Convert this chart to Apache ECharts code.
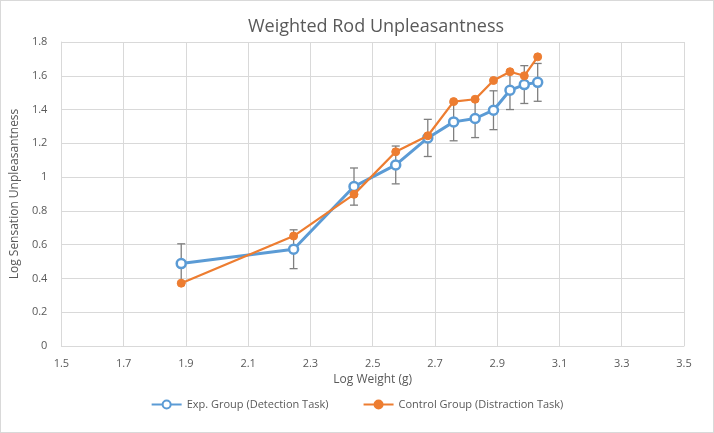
<!DOCTYPE html>
<html>
<head>
<meta charset="utf-8">
<script src="https://cdn.jsdelivr.net/npm/echarts@6/dist/echarts.min.js"></script>
<style>
  html, body { margin: 0; padding: 0; background: #fff; }
  #chart { width: 712px; height: 431px; border: 1px solid #d9d9d9; }
</style>
</head>
<body>
<div id="chart"></div>
<script>
  // log weight (x) for each stimulus
  var logWeight = [1.885, 2.246, 2.440, 2.574, 2.677, 2.760, 2.829, 2.888, 2.941, 2.987, 3.030]
  // exp. group mean + error
  var expValues = [0.488, 0.573, 0.944, 1.072, 1.232, 1.327, 1.347, 1.396, 1.514, 1.548, 1.561]
  var expError = [0.117, 0.115, 0.110, 0.112, 0.110, 0.112, 0.113, 0.115, 0.114, 0.112, 0.112]
  // control group mean
  var ctrlValues = [0.372, 0.651, 0.898, 1.150, 1.245, 1.447, 1.461, 1.572, 1.624, 1.600, 1.712]

  var chart = echarts.init(document.getElementById('chart'))

  var pair = function (xs, ys) {
    var out = []
    for (var i = 0; i < xs.length; i++) {
      out.push([xs[i], ys[i]])
    }
    return out
  }

  var errData = []
  for (var i = 0; i < logWeight.length; i++) {
    errData.push([logWeight[i], expValues[i] - expError[i], expValues[i] + expError[i]])
  }

  var textColor = '#595959'
  var gridColor = '#d9d9d9'

  var option = {
    animation: false,
    title: {
      text: 'Weighted Rod Unpleasantness',
      left: 370,
      textAlign: 'center',
      top: 12,
      textStyle: {
        color: textColor,
        fontSize: 18,
        fontWeight: 'normal',
        fontFamily: 'Open Sans'
      }
    },
    grid: {
      left: 59,
      right: 29,
      top: 41,
      bottom: 86
    },
    legend: {
      bottom: 17,
      left: 'center',
      itemGap: 34,
      itemWidth: 30,
      itemHeight: 10,
      textStyle: { color: textColor, fontSize: 11, fontFamily: 'Open Sans' },
      data: ['Exp. Group (Detection Task)', 'Control Group (Distraction Task)']
    },
    xAxis: {
      type: 'value',
      min: 1.5,
      max: 3.5,
      interval: 0.2,
      name: 'Log Weight (g)',
      nameLocation: 'middle',
      nameGap: 26,
      nameTextStyle: { color: textColor, fontSize: 12, fontFamily: 'Open Sans' },
      axisLine: { show: true, lineStyle: { color: gridColor } },
      axisTick: { show: false },
      axisLabel: {
        color: textColor,
        fontSize: 11,
        fontFamily: 'Open Sans',
        margin: 12,
        formatter: function (v) { return +v.toFixed(1) + '' }
      },
      splitLine: { show: true, lineStyle: { color: gridColor } }
    },
    yAxis: {
      type: 'value',
      min: 0,
      max: 1.8,
      interval: 0.2,
      name: 'Log Sensation Unpleasantness',
      nameLocation: 'middle',
      nameGap: 38,
      nameTextStyle: { color: textColor, fontSize: 12, fontFamily: 'Open Sans' },
      axisLine: { show: true, lineStyle: { color: gridColor } },
      axisTick: { show: false },
      axisLabel: {
        color: textColor,
        fontSize: 11,
        fontFamily: 'Open Sans',
        margin: 14,
        formatter: function (v) { return +v.toFixed(1) + '' }
      },
      splitLine: { show: true, lineStyle: { color: gridColor } }
    },
    series: [
      {
        type: 'custom',
        name: 'err',
        z: 1,
        data: errData,
        renderItem: function (params, api) {
          var lo = api.coord([api.value(0), api.value(1)])
          var hi = api.coord([api.value(0), api.value(2)])
          var w = 4
          var style = { stroke: '#7f7f7f', lineWidth: 1.3 }
          return {
            type: 'group',
            children: [
              { type: 'line', shape: { x1: lo[0], y1: lo[1], x2: hi[0], y2: hi[1] }, style: style },
              { type: 'line', shape: { x1: lo[0] - w, y1: lo[1], x2: lo[0] + w, y2: lo[1] }, style: style },
              { type: 'line', shape: { x1: hi[0] - w, y1: hi[1], x2: hi[0] + w, y2: hi[1] }, style: style }
            ]
          }
        }
      },
      {
        type: 'line',
        name: 'Exp. Group (Detection Task)',
        z: 3,
        data: pair(logWeight, expValues),
        symbol: 'circle',
        symbolSize: 9,
        lineStyle: { color: '#5b9bd5', width: 3 },
        itemStyle: { color: '#fff', borderColor: '#5b9bd5', borderWidth: 2.5 }
      },
      {
        type: 'line',
        name: 'Control Group (Distraction Task)',
        z: 4,
        data: pair(logWeight, ctrlValues),
        symbol: 'circle',
        symbolSize: 8,
        lineStyle: { color: '#ed7d31', width: 2.25 },
        itemStyle: { color: '#ed7d31', borderColor: '#ed7d31', borderWidth: 1 }
      }
    ]
  }

  chart.setOption(option)
</script>
</body>
</html>
